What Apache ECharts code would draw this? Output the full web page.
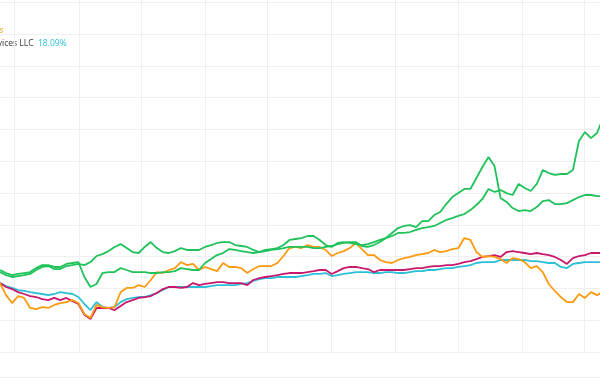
<!DOCTYPE html>
<html><head><meta charset="utf-8">
<script src="https://cdn.jsdelivr.net/npm/echarts@6/dist/echarts.min.js"></script>
<style>html,body{margin:0;padding:0;background:#fff}#c{width:600px;height:380px}</style>
</head><body><div id="c"></div>
<script>
const DAY = 86400000;
// sampled dates: first sample ~21.9 Feb 2023, then one every ~2.91 days
const firstDate = Date.UTC(2023, 1, 21, 21, 36);
const stepDays = 2.9126;

// % return values
const orangeVals = [3.4,-4.2,-9.2,-4.8,-6.0,-12.3,-13.0,-11.7,-12.3,-10.4,
-9.2,-8.6,-7.3,-9.2,-16.1,-18.6,-10.4,-11.7,-12.3,-11.7,
-2.3,0.3,0.3,2.1,0.9,5.3,10.3,9.7,11.6,12.8,
16.6,14.7,15.4,11.6,13.5,12.2,10.9,16.0,13.5,13.5,
12.8,9.7,12.2,14.1,14.1,14.1,16.0,20.4,25.4,26.1,
25.4,27.3,26.1,26.1,24.2,20.4,22.3,23.5,25.4,28.6,
24.8,21.0,21.0,17.9,16.6,16.0,17.9,19.1,19.8,21.0,
21.6,22.3,24.2,22.9,23.5,24.8,25.4,31.7,30.5,22.9,
19.8,20.4,19.8,18.5,16.0,19.1,18.5,16.6,12.8,14.1,
10.3,2.8,-1.6,-5.4,-8.6,-8.6,-3.5,-6.0,-2.3,-4.2,
-2.3];

const crimsonVals = [3.4,0.9,-0.4,-2.3,-3.5,-4.8,-5.4,-6.7,-7.3,-6.0,
-7.3,-6.0,-7.9,-9.8,-16.6,-19.2,-12.3,-12.3,-12.3,-13.6,
-11.1,-8.6,-7.3,-6.0,-5.4,-4.8,-2.9,-0.4,0.9,0.9,
0.3,0.9,3.4,2.1,2.8,3.4,4.0,4.0,3.4,3.4,
3.4,2.1,5.3,6.5,7.2,7.8,8.4,9.1,9.7,9.7,
9.7,10.3,10.9,11.6,11.6,9.1,10.9,12.8,13.5,13.5,
12.8,12.2,10.3,11.6,11.6,11.6,11.6,11.6,12.2,12.8,
12.8,13.5,14.1,14.1,14.7,14.7,15.4,16.6,17.2,18.5,
19.8,20.4,21.0,19.8,22.9,23.5,22.9,22.3,21.6,22.3,
21.6,21.0,19.8,17.9,15.4,19.1,20.4,21.0,22.3,22.3,
22.3];

const cyanVals = [3.4,1.5,0.3,-1.0,-1.6,-2.3,-2.9,-3.5,-4.2,-3.5,
-2.3,-2.9,-3.5,-5.4,-9.8,-13.6,-8.6,-11.7,-12.3,-11.7,
-8.6,-6.7,-6.0,-5.4,-5.4,-4.2,-2.9,-1.0,0.9,0.9,
0.9,0.9,0.9,0.9,0.9,1.5,2.1,2.1,2.1,2.1,
2.8,3.4,4.7,5.9,6.5,6.5,7.2,7.2,7.2,7.2,
7.8,8.4,9.1,9.1,9.7,7.8,8.4,9.1,9.7,10.3,
10.3,10.3,9.7,9.7,10.3,10.3,9.7,9.7,10.3,10.9,
10.9,11.6,11.6,12.2,12.8,12.8,13.5,14.1,14.7,16.0,
16.6,16.6,16.6,17.9,17.9,17.9,17.9,17.9,17.2,17.2,
16.6,16.0,16.0,13.5,12.8,15.4,16.0,16.6,16.6,16.6,
16.6];

const greenAVals = [11.6,9.7,8.4,9.1,9.7,10.3,12.8,14.7,14.7,13.5,
13.5,15.4,16.0,16.6,7.2,0.9,2.8,9.7,10.3,10.3,
12.8,11.6,10.3,10.3,10.3,9.7,9.7,10.3,10.3,10.9,
12.8,12.2,11.6,11.6,16.0,18.5,21.0,22.3,24.8,24.2,
23.5,22.9,22.3,22.9,23.5,24.2,24.8,25.4,26.1,26.1,
26.1,26.1,25.4,25.4,26.1,26.7,27.9,28.6,29.2,29.2,
26.7,26.1,27.3,29.2,31.7,34.9,38.0,39.3,39.9,38.6,
42.4,42.4,46.2,48.1,53.1,57.5,60.0,62.6,62.6,69.5,
76.4,82.7,77.0,56.9,54.4,50.6,48.7,49.3,48.7,51.2,
55.0,55.6,53.1,53.1,53.7,55.6,57.5,58.8,58.8,58.1,
58.1];

const greenBVals = [10.3,8.4,7.2,7.8,8.4,9.1,11.6,13.5,14.1,12.2,
12.2,14.1,14.7,15.4,14.7,16.6,20.4,21.6,23.5,26.1,
27.9,25.4,22.9,22.3,26.1,29.2,25.4,22.9,22.3,23.5,
25.4,24.2,24.2,24.2,26.1,27.3,28.6,29.2,29.2,27.3,
26.7,26.1,24.2,22.9,24.2,24.8,25.4,27.3,30.5,31.1,
31.7,33.0,33.0,30.5,27.3,26.1,28.6,29.2,28.6,27.9,
27.3,27.9,29.2,30.5,31.7,33.0,34.9,34.9,35.5,36.8,
38.0,38.6,39.3,41.2,43.1,44.3,45.6,46.8,49.3,52.5,
56.3,62.6,60.7,61.9,60.0,58.8,65.7,63.2,61.3,65.7,
74.5,72.6,71.4,72.0,72.0,74.5,92.8,98.4,94.6,97.8,
107.2];

const dates = orangeVals.map((_, i) => firstDate + i * stepDays * DAY);
const pair = vals => vals.map((v, i) => [dates[i], v]);

const chart = echarts.init(document.getElementById('c'), null, {renderer: 'canvas'});
const mk = (name, vals, color) => ({
  name, type: 'line', data: pair(vals), showSymbol: false, symbol: 'none',
  lineStyle: {color, width: 1.8}, itemStyle: {color}, z: 2
});
chart.setOption({
  animation: false,
  backgroundColor: '#ffffff',
  grid: {left: 0, right: 0, top: 0, bottom: 28, containLabel: false},
  xAxis: {
    type: 'time',
    min: Date.UTC(2023, 2, 1) - 7.10 * DAY,
    max: Date.UTC(2023, 11, 1) + 7.68 * DAY,
    splitNumber: 6,
    axisLabel: {show: false}, axisTick: {show: false}, axisLine: {show: false},
    splitLine: {show: true, showMinLine: false, showMaxLine: false, lineStyle: {color: '#efefef', width: 1}}
  },
  yAxis: {
    type: 'value', min: -40, max: 181.5, interval: 20,
    axisLabel: {show: false}, axisTick: {show: false}, axisLine: {show: false},
    splitLine: {show: true, showMaxLine: false, lineStyle: {color: '#efefef', width: 1}}
  },
  legend: {show: false},
  series: [
    mk('Services LLC', cyanVals, '#2bbfd8'),
    mk('Series B', crimsonVals, '#c9186c'),
    mk('Series C', orangeVals, '#fd9a10'),
    mk('Series D', greenAVals, '#1fc25a'),
    mk('Series E', greenBVals, '#1fc25a')
  ],
  graphic: [
    {type: 'text', x: 3.5, y: 30.5, silent: true,
     style: {text: 'Holdings', align: 'right', verticalAlign: 'middle', fill: '#f5a623', fontSize: 8.5, fontFamily: 'Open Sans'}},
    {type: 'text', x: 33.5, y: 43.5, silent: true,
     style: {text: 'Services LLC', align: 'right', verticalAlign: 'middle', fill: '#3a3a3a', fontSize: 8.5, fontFamily: 'Open Sans'}},
    {type: 'text', x: 38, y: 43.5, silent: true,
     style: {text: '18.09%', align: 'left', verticalAlign: 'middle', fill: '#2bbfd8', fontSize: 8.5, fontFamily: 'Open Sans'}},
    {type: 'line', silent: true, shape: {x1: 0, y1: 377.5, x2: 600, y2: 377.5},
     style: {stroke: '#efefef', lineWidth: 1}}
  ]
});
</script>
</body></html>
